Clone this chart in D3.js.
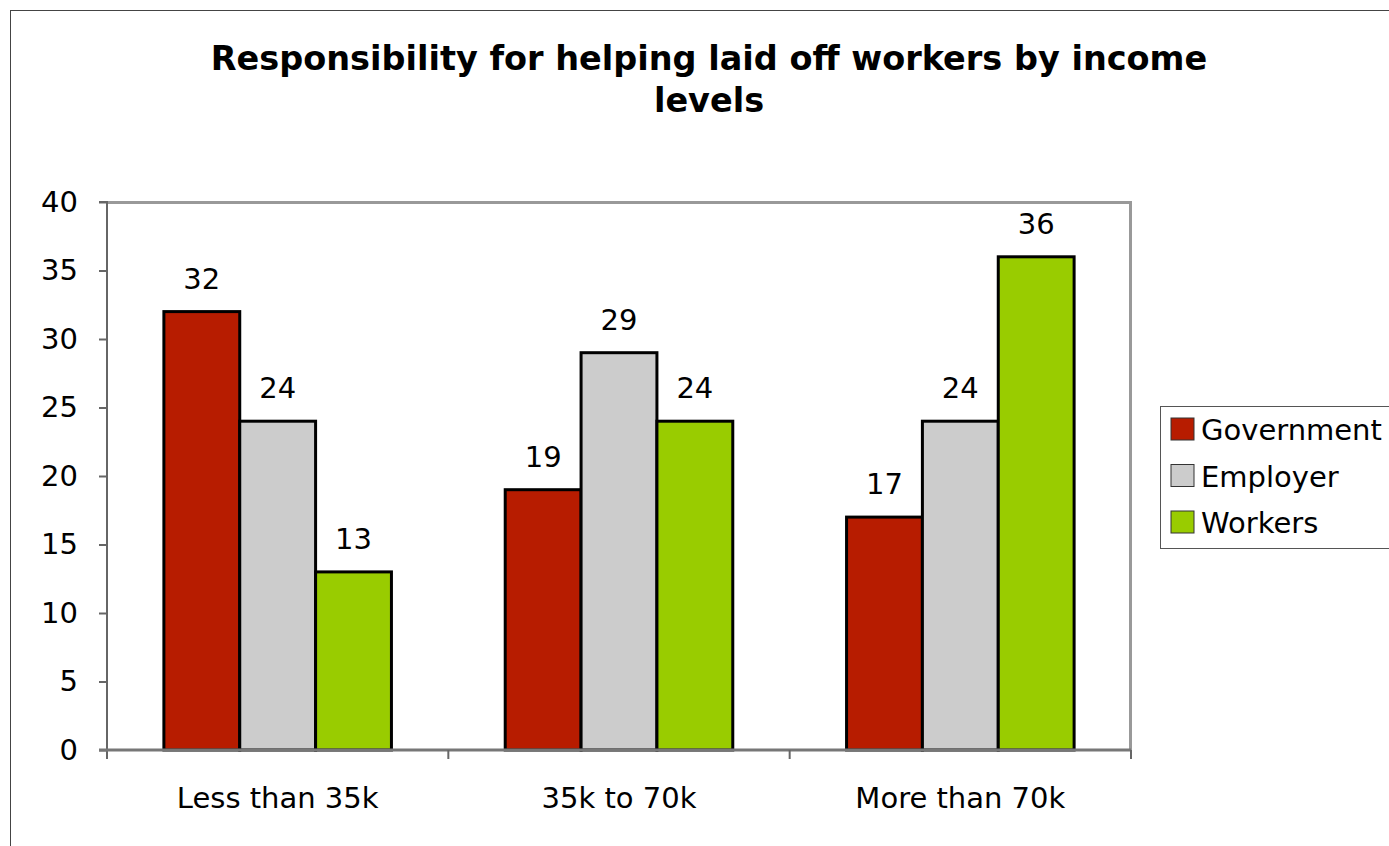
<!DOCTYPE html>
<html>
<head>
<meta charset="utf-8">
<script src="https://cdn.jsdelivr.net/npm/d3@7"></script>
<style>
	body { margin: 0; background: #fff; }
	text { font-family: "DejaVu Sans", Verdana, sans-serif; fill: #000; }
</style>
</head>
<body>
<script>
(function(){

	//chart data
	var categories = ["Less than 35k", "35k to 70k", "More than 70k"];
	var seriesNames = ["Government", "Employer", "Workers"];
	var government = [32, 19, 17];
	var employer = [24, 29, 24];
	var workers = [13, 24, 36];
	var yTicks = [0, 5, 10, 15, 20, 25, 30, 35, 40];
	var colors = ["#b71c00", "#cccccc", "#99cc00"];
	var titleLines = ["Responsibility for helping laid off workers by income", "levels"];

	var values = [government, employer, workers];

	var width = 1389, height = 846;
	var plot = {left: 107, top: 202, right: 1131, bottom: 750};
	var fontSize = "29px";

	var svg = d3.select("body")
		.append("svg")
		.attr("width", width)
		.attr("height", height);

	//outer frame, runs off the right and bottom edges
	svg.append("rect")
		.attr("x", 10.5)
		.attr("y", 10.5)
		.attr("width", 1400)
		.attr("height", 900)
		.style("fill", "none")
		.style("stroke", "#444")
		.style("stroke-width", 1);

	//title
	svg.selectAll(".title")
		.data(titleLines)
		.enter()
		.append("text")
		.attr("class", "title")
		.attr("x", 709)
		.attr("y", function(d, i){ return 70 + i * 42; })
		.attr("text-anchor", "middle")
		.style("font-weight", "bold")
		.style("font-size", "33.5px")
		.text(function(d){ return d; });

	//scales
	var x0 = d3.scaleBand()
		.domain(categories)
		.range([plot.left, plot.right]);

	var x1 = d3.scaleBand()
		.domain(seriesNames)
		.range([0, x0.bandwidth()])
		.paddingOuter(0.75)
		.paddingInner(0);

	var y = d3.scaleLinear()
		.domain([0, 40])
		.range([plot.bottom, plot.top]);

	//plot area border (top and right gray)
	svg.append("path")
		.attr("d", "M" + plot.left + "," + (plot.top + 0.5) + "H" + (plot.right - 0.5) + "V" + plot.bottom)
		.style("fill", "none")
		.style("stroke", "#999")
		.style("stroke-width", 3);

	//bars
	var groups = svg.selectAll(".group")
		.data(categories)
		.enter()
		.append("g")
		.attr("class", "group")
		.attr("transform", function(d){ return "translate(" + x0(d) + ",0)"; });

	groups.selectAll("rect")
		.data(function(d, ci){
			return seriesNames.map(function(s, si){
				return {series: s, si: si, value: values[si][ci]};
			});
		})
		.enter()
		.append("rect")
		.attr("x", function(d){ return x1(d.series); })
		.attr("y", function(d){ return y(d.value); })
		.attr("width", x1.bandwidth())
		.attr("height", function(d){ return y(0) - y(d.value); })
		.style("fill", function(d){ return colors[d.si]; })
		.style("stroke", "#000")
		.style("stroke-width", 3);

	//value labels
	groups.selectAll(".valueLabel")
		.data(function(d, ci){
			return seriesNames.map(function(s, si){
				return {series: s, value: values[si][ci]};
			});
		})
		.enter()
		.append("text")
		.attr("class", "valueLabel")
		.attr("x", function(d){ return x1(d.series) + x1.bandwidth() / 2; })
		.attr("y", function(d){ return y(d.value) - 23; })
		.attr("text-anchor", "middle")
		.style("font-size", fontSize)
		.text(function(d){ return d.value; });

	//y axis
	var yAxis = d3.axisLeft(y)
		.tickValues(yTicks)
		.tickSize(8)
		.tickPadding(21);

	var yg = svg.append("g")
		.attr("class", "axis")
		.attr("transform", "translate(" + plot.left + ",0)")
		.call(yAxis);
	yg.select(".domain").attr("d", "M-8," + plot.top + "H0V" + (plot.bottom + 9));
	yg.selectAll("path, line").style("stroke", "#666").style("stroke-width", 2);
	yg.selectAll("text").style("font-size", fontSize).style("font-family", "DejaVu Sans");

	//x axis
	var xg = svg.append("g")
		.attr("class", "axis")
		.attr("transform", "translate(0," + plot.bottom + ")")
		.call(d3.axisBottom(x0).tickSize(0).tickPadding(37));
	xg.select(".domain").remove();
	xg.append("line")
		.attr("x1", plot.left - 8)
		.attr("x2", plot.right)
		.attr("y1", 0)
		.attr("y2", 0)
		.style("stroke", "#777")
		.style("stroke-width", 3);
	xg.selectAll(".catTick")
		.data(categories.slice(1).concat(["end"]))
		.enter()
		.append("line")
		.attr("class", "catTick")
		.attr("x1", function(d, i){ return i < 2 ? x0(d) : plot.right; })
		.attr("x2", function(d, i){ return i < 2 ? x0(d) : plot.right; })
		.attr("y1", 0)
		.attr("y2", 9)
		.style("stroke", "#666")
		.style("stroke-width", 2);
	xg.selectAll("text").style("font-size", fontSize).style("font-family", "DejaVu Sans");

	//legend
	var legend = svg.append("g").attr("class", "legend");
	legend.append("rect")
		.attr("x", 1160.5)
		.attr("y", 406.5)
		.attr("width", 260)
		.attr("height", 142)
		.style("fill", "#fff")
		.style("stroke", "#555")
		.style("stroke-width", 1);

	var items = legend.selectAll(".item")
		.data(seriesNames)
		.enter()
		.append("g")
		.attr("class", "item")
		.attr("transform", function(d, i){ return "translate(1171," + (418 + i * 46.5) + ")"; });
	items.append("rect")
		.attr("width", 23)
		.attr("height", 22)
		.style("fill", function(d, i){ return colors[i]; })
		.style("stroke", "#333")
		.style("stroke-width", 1);
	items.append("text")
		.attr("x", 30)
		.attr("y", 22)
		.style("font-size", fontSize)
		.text(function(d){ return d; });

})();
</script>
</body>
</html>
